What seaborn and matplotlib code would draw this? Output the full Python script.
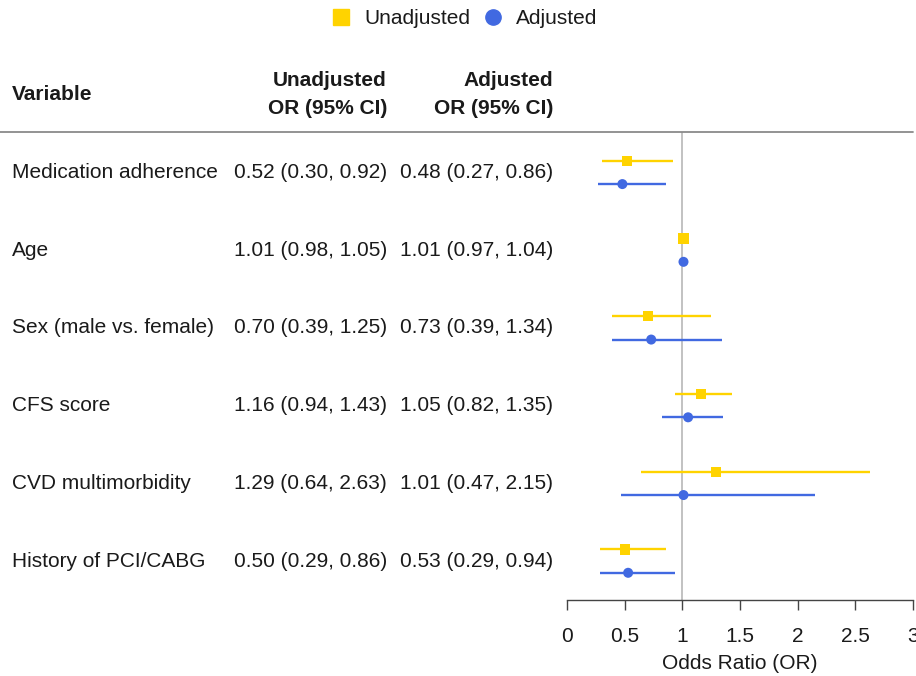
import matplotlib
matplotlib.use("Agg")
import matplotlib.pyplot as plt
import matplotlib.transforms as mtransforms
from matplotlib.lines import Line2D
import seaborn as sns
import pandas as pd

sns.set_theme(style="white")
plt.rcParams['font.family'] = ['Liberation Sans', 'DejaVu Sans']

variables = ["Medication adherence", "Age", "Sex (male vs. female)", "CFS score",
             "CVD multimorbidity", "History of PCI/CABG"]
unadj_or = [0.52, 1.01, 0.70, 1.16, 1.29, 0.50]
unadj_lo = [0.30, 0.98, 0.39, 0.94, 0.64, 0.29]
unadj_hi = [0.92, 1.05, 1.25, 1.43, 2.63, 0.86]
adj_or = [0.48, 1.01, 0.73, 1.05, 1.01, 0.53]
adj_lo = [0.27, 0.97, 0.39, 0.82, 0.47, 0.29]
adj_hi = [0.86, 1.04, 1.34, 1.35, 2.15, 0.94]
x_ticks = [0, 0.5, 1, 1.5, 2, 2.5, 3]
x_ticklabels = ["0", "0.5", "1", "1.5", "2", "2.5", "3"]

YELLOW = "#FFD300"
BLUE = "#4169E1"
TXT = "#1a1a1a"
FS = 15

W, H = 916, 676
fig = plt.figure(figsize=(W / 100, H / 100), dpi=100)

def fx(px):
    return px / W

def fy(py):
    return 1 - py / H

ax = fig.add_axes([fx(567), fy(600), fx(913) - fx(567), fy(132) - fy(600)])

rows = list(range(len(variables)))
off = 0.15
df_u = pd.DataFrame({"y": [r - off for r in rows], "or": unadj_or, "lo": unadj_lo, "hi": unadj_hi})
df_a = pd.DataFrame({"y": [r + off for r in rows], "or": adj_or, "lo": adj_lo, "hi": adj_hi})

ax.axvline(1, color="#bdbdbd", lw=1.3, zorder=0)
ax.hlines(df_u["y"], df_u["lo"], df_u["hi"], color=YELLOW, lw=1.7, zorder=2)
ax.hlines(df_a["y"], df_a["lo"], df_a["hi"], color=BLUE, lw=1.7, zorder=2)
sns.scatterplot(data=df_u, x="or", y="y", marker="s", s=55, color=YELLOW, edgecolor="none", ax=ax, zorder=3)
sns.scatterplot(data=df_a, x="or", y="y", marker="o", s=52, color=BLUE, edgecolor="none", ax=ax, zorder=3)

ax.set_xlim(0, 3)
ax.set_ylim(5.5, -0.52)
ax.set_yticks([])
ax.set_ylabel("")
for s in ["top", "right", "left"]:
    ax.spines[s].set_visible(False)
ax.spines["bottom"].set_color("#444444")
ax.spines["bottom"].set_linewidth(1.0)
ax.set_xticks(x_ticks)
ax.set_xticklabels(x_ticklabels)
ax.tick_params(axis="x", direction="out", length=7.5, width=1.0, color="#444444",
               pad=12, labelsize=FS, labelcolor=TXT, bottom=True)
ax.set_xlabel("Odds Ratio (OR)", fontsize=FS, color=TXT, labelpad=6)
ax.patch.set_alpha(0)

# table text
trans = mtransforms.blended_transform_factory(fig.transFigure, ax.transData)
for i, v in enumerate(variables):
    ax.text(fx(12), i, v, transform=trans, ha="left", va="center", fontsize=FS, color=TXT, clip_on=False)
    ax.text(fx(387), i, f"{unadj_or[i]:.2f} ({unadj_lo[i]:.2f}, {unadj_hi[i]:.2f})", transform=trans,
            ha="right", va="center", fontsize=FS, color=TXT, clip_on=False)
    ax.text(fx(553), i, f"{adj_or[i]:.2f} ({adj_lo[i]:.2f}, {adj_hi[i]:.2f})", transform=trans,
            ha="right", va="center", fontsize=FS, color=TXT, clip_on=False)

fig.text(fx(12), fy(95), "Variable", ha="left", va="center", fontsize=FS, weight="bold", color=TXT)
fig.text(fx(387), fy(80), "Unadjusted", ha="right", va="center", fontsize=FS, weight="bold", color=TXT)
fig.text(fx(387), fy(108), "OR (95% CI)", ha="right", va="center", fontsize=FS, weight="bold", color=TXT)
fig.text(fx(553), fy(80), "Adjusted", ha="right", va="center", fontsize=FS, weight="bold", color=TXT)
fig.text(fx(553), fy(108), "OR (95% CI)", ha="right", va="center", fontsize=FS, weight="bold", color=TXT)

fig.add_artist(Line2D([fx(0), fx(913)], [fy(132), fy(132)], color="#8a8a8a", lw=1.3, transform=fig.transFigure))

handles = [Line2D([], [], marker="s", color=YELLOW, linestyle="none", markersize=11),
           Line2D([], [], marker="o", color=BLUE, linestyle="none", markersize=11)]
fig.legend(handles, ["Unadjusted", "Adjusted"], loc="center", bbox_to_anchor=(fx(463), fy(19)),
           ncol=2, frameon=False, fontsize=FS, handletextpad=0.5, columnspacing=0.5,
           handlelength=1.2, labelcolor=TXT)

fig.savefig("out.png", dpi=100, facecolor="white")
